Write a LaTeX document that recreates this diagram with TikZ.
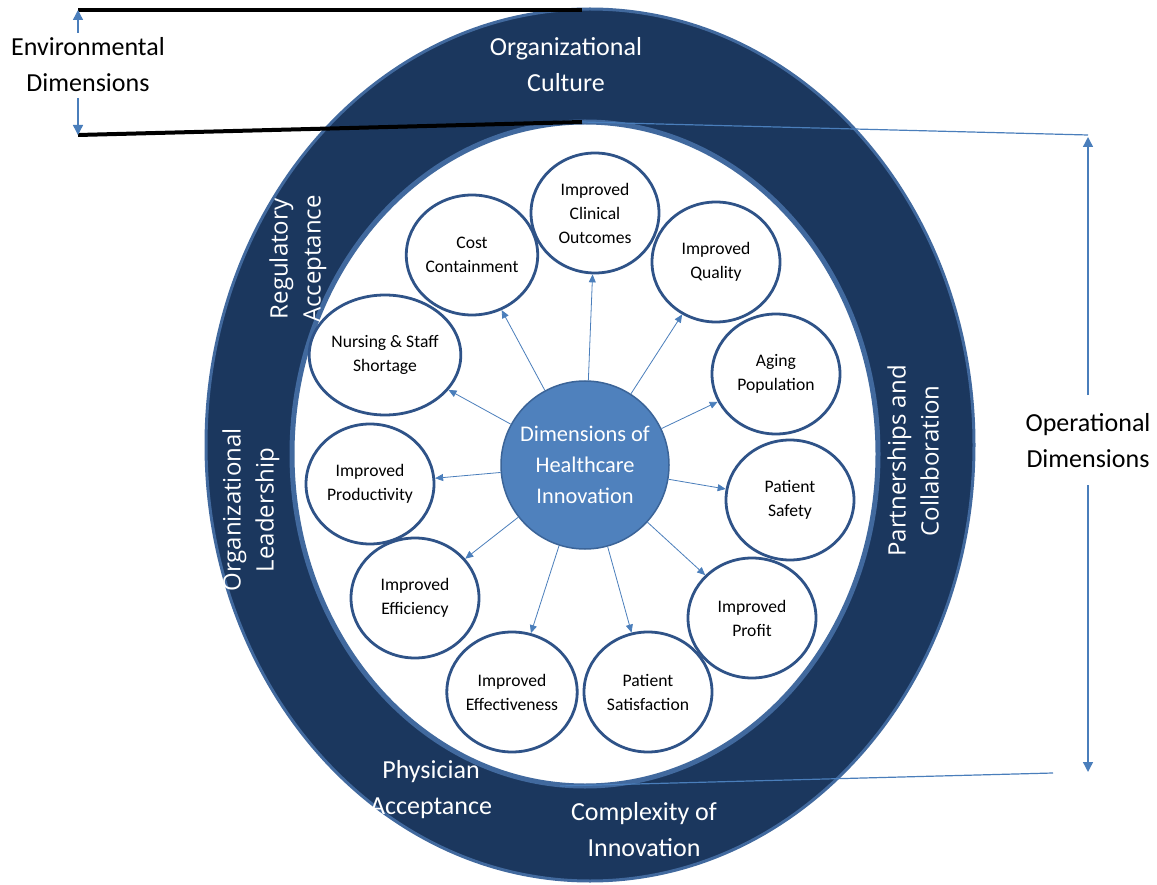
\documentclass[tikz,border=0pt]{standalone}
\usepackage{fontspec}
\setmainfont{Carlito}
\newfontfamily\rotfont{Open Sans}
\usetikzlibrary{shapes.geometric,arrows.meta}
\definecolor{navy}{HTML}{1B375E}
\definecolor{ringedge}{HTML}{41699E}
\definecolor{hub}{HTML}{4F81BD}
\definecolor{hubedge}{HTML}{3B6498}
\definecolor{bubedge}{HTML}{2F5388}
\definecolor{arrowblue}{HTML}{4A7EBB}
\begin{document}
\begin{tikzpicture}[x=1pt,y=-1pt,
  bubble/.style={ellipse, draw=bubedge, line width=2.8pt, fill=white, minimum width=128pt, minimum height=120pt, inner sep=0pt, align=center, font=\fontsize{17.6}{24}\selectfont},
  hubnode/.style={circle, draw=hubedge, line width=1.5pt, fill=hub, minimum size=168pt, inner sep=0pt, align=center, text=white, font=\fontsize{22.4}{31}\selectfont},
  spoke/.style={draw=arrowblue, line width=0.8pt, -{Triangle[length=8pt,width=7pt]}},
  ringlabel/.style={text=white, align=center, font=\fontsize{26}{36}\selectfont},
  rotlabel/.style={text=white, align=center, rotate=90, font=\rotfont\fontsize{24}{33}\selectfont},
  outlabel/.style={text=black, align=center, font=\fontsize{26}{36}\selectfont},
  bracket/.style={line width=4pt, black},
  dimarrow/.style={draw=arrowblue, line width=1.4pt, -{Triangle[length=10pt,width=10pt]}},
  leader/.style={draw=arrowblue, line width=1.2pt}
]
\useasboundingbox (0,0) rectangle (1157,885);
% ring
\filldraw[fill=navy, draw=ringedge, line width=3pt] (590,445) ellipse [x radius=384pt, y radius=436pt];
\filldraw[fill=white, draw=ringedge, line width=5pt] (585,454) ellipse [x radius=293pt, y radius=332pt];

% coordinates for brackets and leaders
\coordinate (envtopL) at (78,10);
\coordinate (envtopR) at (582,10);
\coordinate (envbotL) at (78,135);
\coordinate (envbotR) at (582,122);
\coordinate (ea1) at (78,33);
\coordinate (ea2) at (78,98);
\coordinate (optopR) at (1088,135);
\coordinate (optip) at (1088,137);
\coordinate (opbotL) at (560,786);
\coordinate (opbotR) at (1053,773);
\coordinate (opbottip) at (1088,772);
\coordinate (oa1) at (1088,395);
\coordinate (oa2) at (1088,485);

\draw[bracket] (envtopL) -- (envtopR);
\draw[bracket] (envbotL) -- (envbotR);
\draw[dimarrow] (ea1) -- (envtopL);
\draw[dimarrow] (ea2) -- (envbotL);
\draw[leader] (envbotR) -- (optopR);
\draw[leader] (opbotL) -- (opbotR);
\draw[dimarrow] (oa1) -- (optip);
\draw[dimarrow] (oa2) -- (opbottip);

% labels outside
\node[outlabel] (env) at (88,65) {Environmental\\Dimensions};
\node[outlabel] (oper) at (1088,441) {Operational\\Dimensions};

% ring labels
\node[ringlabel] (culture) at (566,65) {Organizational\\Culture};
\node[ringlabel] (phys) at (431,790) {Physician\\Acceptance};
\node[ringlabel] (compl) at (644,830) {Complexity of\\Innovation};
\node[rotlabel] (regul) at (298,259) {Regulatory\\Acceptance};
\node[rotlabel] (leader) at (251,510) {Organizational\\Leadership};
\node[rotlabel] (partn) at (913,461) {Partnerships and\\Collaboration};

% hub and bubbles
\node[hubnode] (hub) at (585,465) {Dimensions of\\Healthcare\\Innovation};
\node[bubble] (clin) at (595,213) {Improved\\Clinical\\Outcomes};
\node[bubble] (cost) at (472,255) {Cost\\Containment};
\node[bubble] (qual) at (716,262) {Improved\\Quality};
\node[bubble] (nurs) at (385,355) {Nursing \& Staff\\Shortage};
\node[bubble] (aging) at (776,374) {Aging\\Population};
\node[bubble] (prod) at (370,484) {Improved\\Productivity};
\node[bubble] (safe) at (790,500) {Patient\\Safety};
\node[bubble] (effic) at (415,598) {Improved\\Efficiency};
\node[bubble] (profit) at (752,618) {Improved\\Profit};
\node[bubble] (effect) at (512,692) {Improved\\Effectiveness};
\node[bubble] (satis) at (648,692) {Patient\\Satisfaction};

\foreach \n in {clin,cost,qual,nurs,aging,prod,safe,effic,profit,effect,satis}
  \draw[spoke] (hub) -- (\n);
\end{tikzpicture}
\end{document}
